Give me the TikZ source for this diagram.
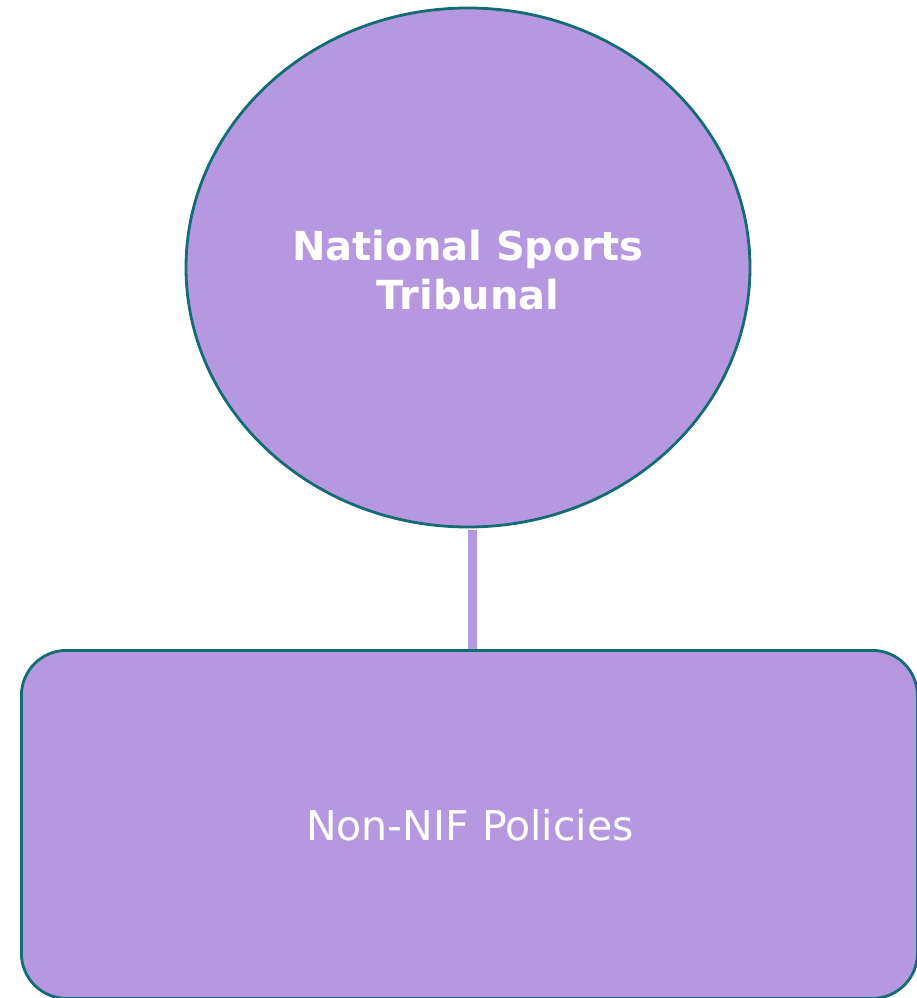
\documentclass[tikz,border=0pt]{standalone}
\usepackage{fontspec}
\setmainfont{DejaVu Sans}
\usetikzlibrary{shapes.geometric}
\definecolor{fillc}{HTML}{B598E0}
\definecolor{edgec}{HTML}{136C74}
\begin{document}
\begin{tikzpicture}[x=1pt,y=-1pt,
  shapebox/.style={fill=fillc,draw=edgec,line width=2.8pt},
  conn/.style={draw=fillc,line width=8.5pt}]
\useasboundingbox (0,0) rectangle (917,998);
\node[shapebox,ellipse,minimum width=564pt,minimum height=519pt,inner sep=0pt] (trib) at (468,267.5) {};
\node[shapebox,rectangle,rounded corners=45pt,minimum width=896pt,minimum height=348pt,inner sep=0pt,anchor=north west] (box) at (20,649) {};
\draw[conn] ([xshift=4.5pt,yshift=-1.4pt]trib.south) -- ([xshift=4.5pt]trib.south |- box.north);
\node[text=white,font=\fontsize{40}{49}\selectfont\bfseries,align=center] (t1) at (468,270) {National Sports\\Tribunal};
\node[text=white,font=\fontsize{41}{46}\selectfont] (t2) at (470,825) {Non-NIF Policies};
\end{tikzpicture}
\end{document}
